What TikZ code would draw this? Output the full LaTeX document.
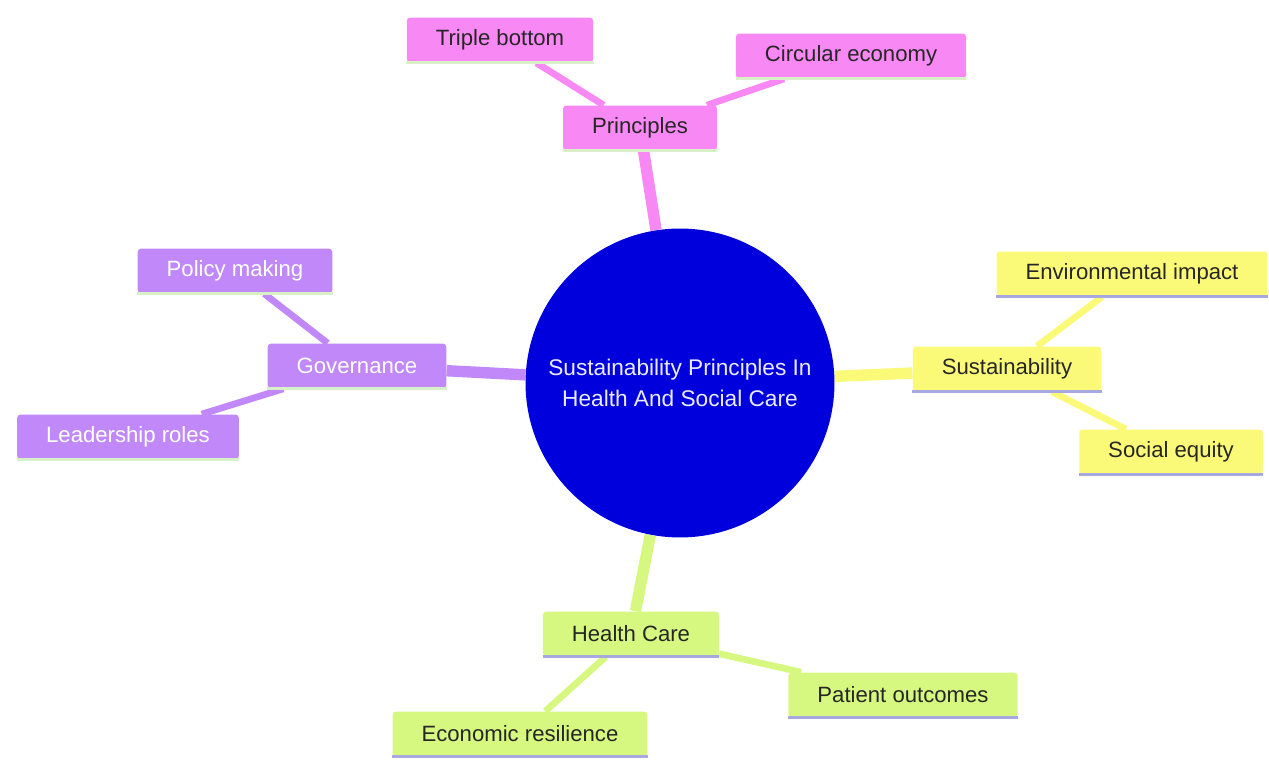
\documentclass[tikz,border=0pt]{standalone}
\usepackage{fontspec}
\setmainfont{Liberation Sans}
\usetikzlibrary{backgrounds}
\definecolor{hubblue}{HTML}{0000DC}
\definecolor{pinkc}{HTML}{F888F4}
\definecolor{purplec}{HTML}{C088F8}
\definecolor{yellowc}{HTML}{FAFA78}
\definecolor{limec}{HTML}{D6F880}
\definecolor{lavline}{HTML}{A8A8E0}
\definecolor{greenline}{HTML}{D8F0C8}
\tikzset{
  topic/.style={rectangle, rounded corners=2pt, minimum height=0.9cm, inner xsep=0.58cm,
    font=\fontsize{12.6}{14}\selectfont, text=black!85},
  uline/.style={line width=1.6pt},
  mainlink/.style={line width=6.5pt},
  sublink/.style={line width=3.8pt}
}
\begin{document}
\begin{tikzpicture}[x=0.02cm, y=-0.02cm]
    \useasboundingbox (0,0) rectangle (1269,760);
    \node[circle, fill=hubblue, minimum size=6.18cm, text=blue!8, align=center,
      font=\fontsize{12.9}{18}\selectfont] (hub) at (680,383)
      {Sustainability Principles In\\ Health And Social Care};
    \node[topic, fill=pinkc] (prin) at (640,128) {Principles};
    \node[topic, fill=pinkc] (trip) at (500,40) {Triple bottom};
    \node[topic, fill=pinkc] (circ) at (851,56) {Circular economy};
    \node[topic, fill=yellowc] (sust) at (1007,369) {Sustainability};
    \node[topic, fill=yellowc] (envi) at (1132,274) {Environmental impact};
    \node[topic, fill=yellowc] (soci) at (1171,452) {Social equity};
    \node[topic, fill=purplec, text=white] (gov) at (357,366) {Governance};
    \node[topic, fill=purplec, text=white] (pol) at (235,271) {Policy making};
    \node[topic, fill=purplec, text=white] (lead) at (128,437) {Leadership roles};
    \node[topic, fill=limec] (hc) at (631,634) {Health Care};
    \node[topic, fill=limec] (pat) at (903,695) {Patient outcomes};
    \node[topic, fill=limec] (eco) at (520,734) {Economic resilience};
    \foreach \n in {prin,trip,circ,gov,pol,lead} \draw[uline, greenline] (\n.south west)--(\n.south east);
    \foreach \n in {sust,envi,soci,hc,pat,eco} \draw[uline, lavline] (\n.south west)--(\n.south east);
    \begin{scope}[on background layer]
        \fill[white] (0,0) rectangle (1269,760);
        \draw[mainlink, pinkc] (hub)--(prin); \draw[mainlink, yellowc] (hub)--(sust);
        \draw[mainlink, purplec] (hub)--(gov); \draw[mainlink, limec] (hub)--(hc);
        \foreach \a/\b in {prin/trip,prin/circ} \draw[sublink, pinkc] (\a)--(\b);
        \foreach \a/\b in {sust/envi,sust/soci} \draw[sublink, yellowc] (\a)--(\b);
        \foreach \a/\b in {gov/pol,gov/lead} \draw[sublink, purplec] (\a)--(\b);
        \foreach \a/\b in {hc/pat,hc/eco} \draw[sublink, limec] (\a)--(\b);
    \end{scope}
\end{tikzpicture}
\end{document}
